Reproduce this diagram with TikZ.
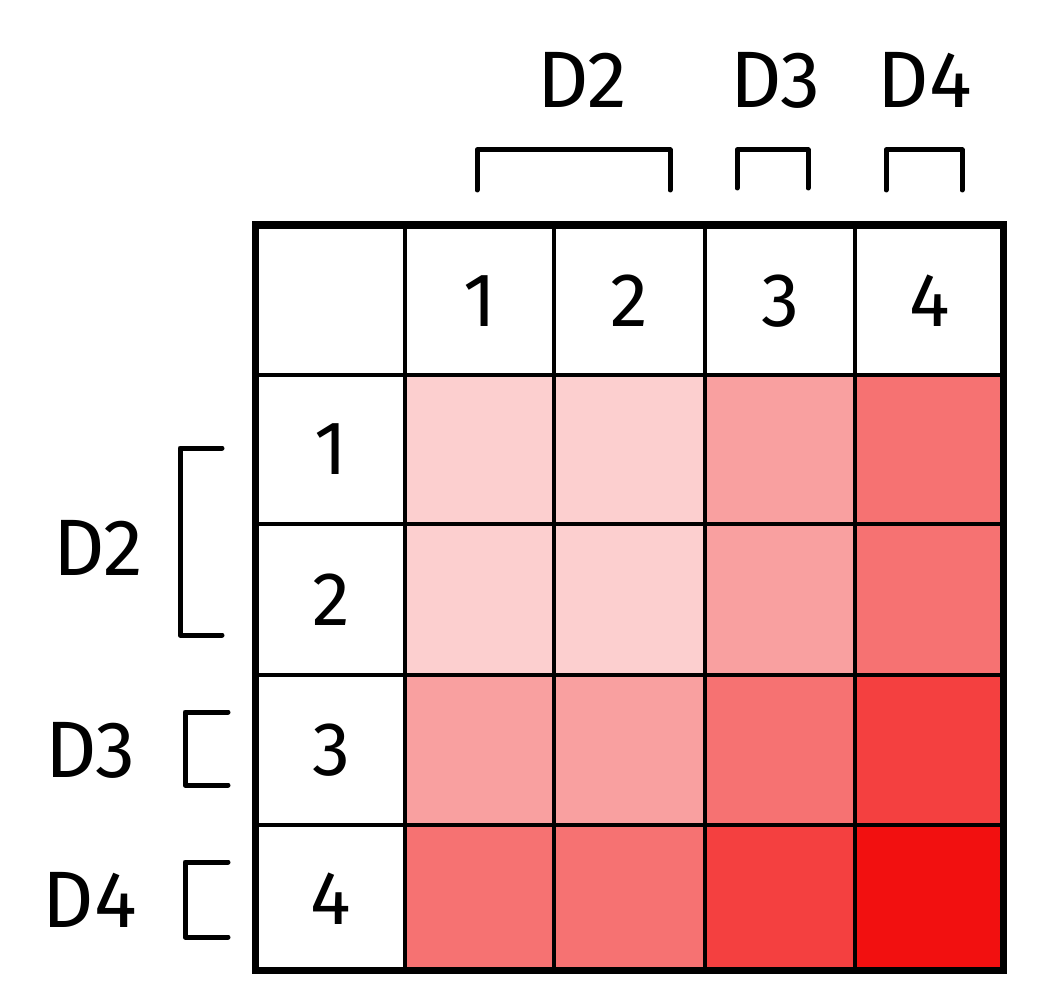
\documentclass[tikz,border=0pt]{standalone}
\usepackage{fontspec}
\setmainfont{Fira Sans}
\definecolor{c1}{HTML}{FCCFCF}
\definecolor{c2}{HTML}{F9A0A0}
\definecolor{c3}{HTML}{F67272}
\definecolor{c4}{HTML}{F44040}
\definecolor{c5}{HTML}{F21010}
\begin{document}
\begin{tikzpicture}[x=1pt,y=-1pt,
  cellbox/.style={draw=black,line width=4pt,inner sep=0pt,anchor=north west},
  lbl/.style={font=\fontsize{80}{80}\selectfont},
  brk/.style={line width=5pt,line cap=round,line join=round}]
\useasboundingbox (0,0) rectangle (1037,1006);
\def\xs{{255,403,552,703,853,1003}}
\def\ys{{225,373,522,673,823,970}}
\def\lv{{{0,0,0,0,0},{0,1,1,2,3},{0,1,1,2,3},{0,2,2,3,4},{0,3,3,4,5}}}
\foreach \r in {0,...,4}{
  \foreach \c in {0,...,4}{
    \pgfmathsetmacro\x{\xs[\c]}
    \pgfmathsetmacro\y{\ys[\r]}
    \pgfmathtruncatemacro\l{\lv[\r][\c]}
    \pgfmathtruncatemacro\w{\xs[\c+1]-\xs[\c]}
    \pgfmathtruncatemacro\h{\ys[\r+1]-\ys[\r]}
    \ifnum\l=0 \def\fc{white}\else\def\fc{c\l}\fi
    \node[cellbox,fill=\fc,minimum width=\w pt,minimum height=\h pt] (cell-\r-\c) at (\x,\y) {};
  }
}
\foreach \i in {1,...,4}{
  \node[font=\fontsize{76}{76}\selectfont] at (cell-0-\i) {\i};
  \node[font=\fontsize{76}{76}\selectfont] at (cell-\i-0) {\i};
}
\draw[line width=7pt] (255,225) rectangle (1003,970);
% top brackets
\draw[brk] (477,190) -- (477,150) -- (670,150) -- (670,190);
\draw[brk] (737,188) -- (737,150) -- (808,150) -- (808,188);
\draw[brk] (886,190) -- (886,150) -- (962,150) -- (962,190);
\node[lbl] (t2) at (582,80) {D2};
\node[lbl] (t3) at (775,80) {D3};
\node[lbl] (t4) at (925,80) {D4};
% left brackets
\draw[brk] (222,448) -- (180,448) -- (180,635) -- (222,635);
\draw[brk] (228,712) -- (185,712) -- (185,785) -- (228,785);
\draw[brk] (228,862) -- (185,862) -- (185,937) -- (228,937);
\node[lbl] (l2) at (98,548) {D2};
\node[lbl] (l3) at (90,750) {D3};
\node[lbl] (l4) at (90,900) {D4};
\end{tikzpicture}
\end{document}
